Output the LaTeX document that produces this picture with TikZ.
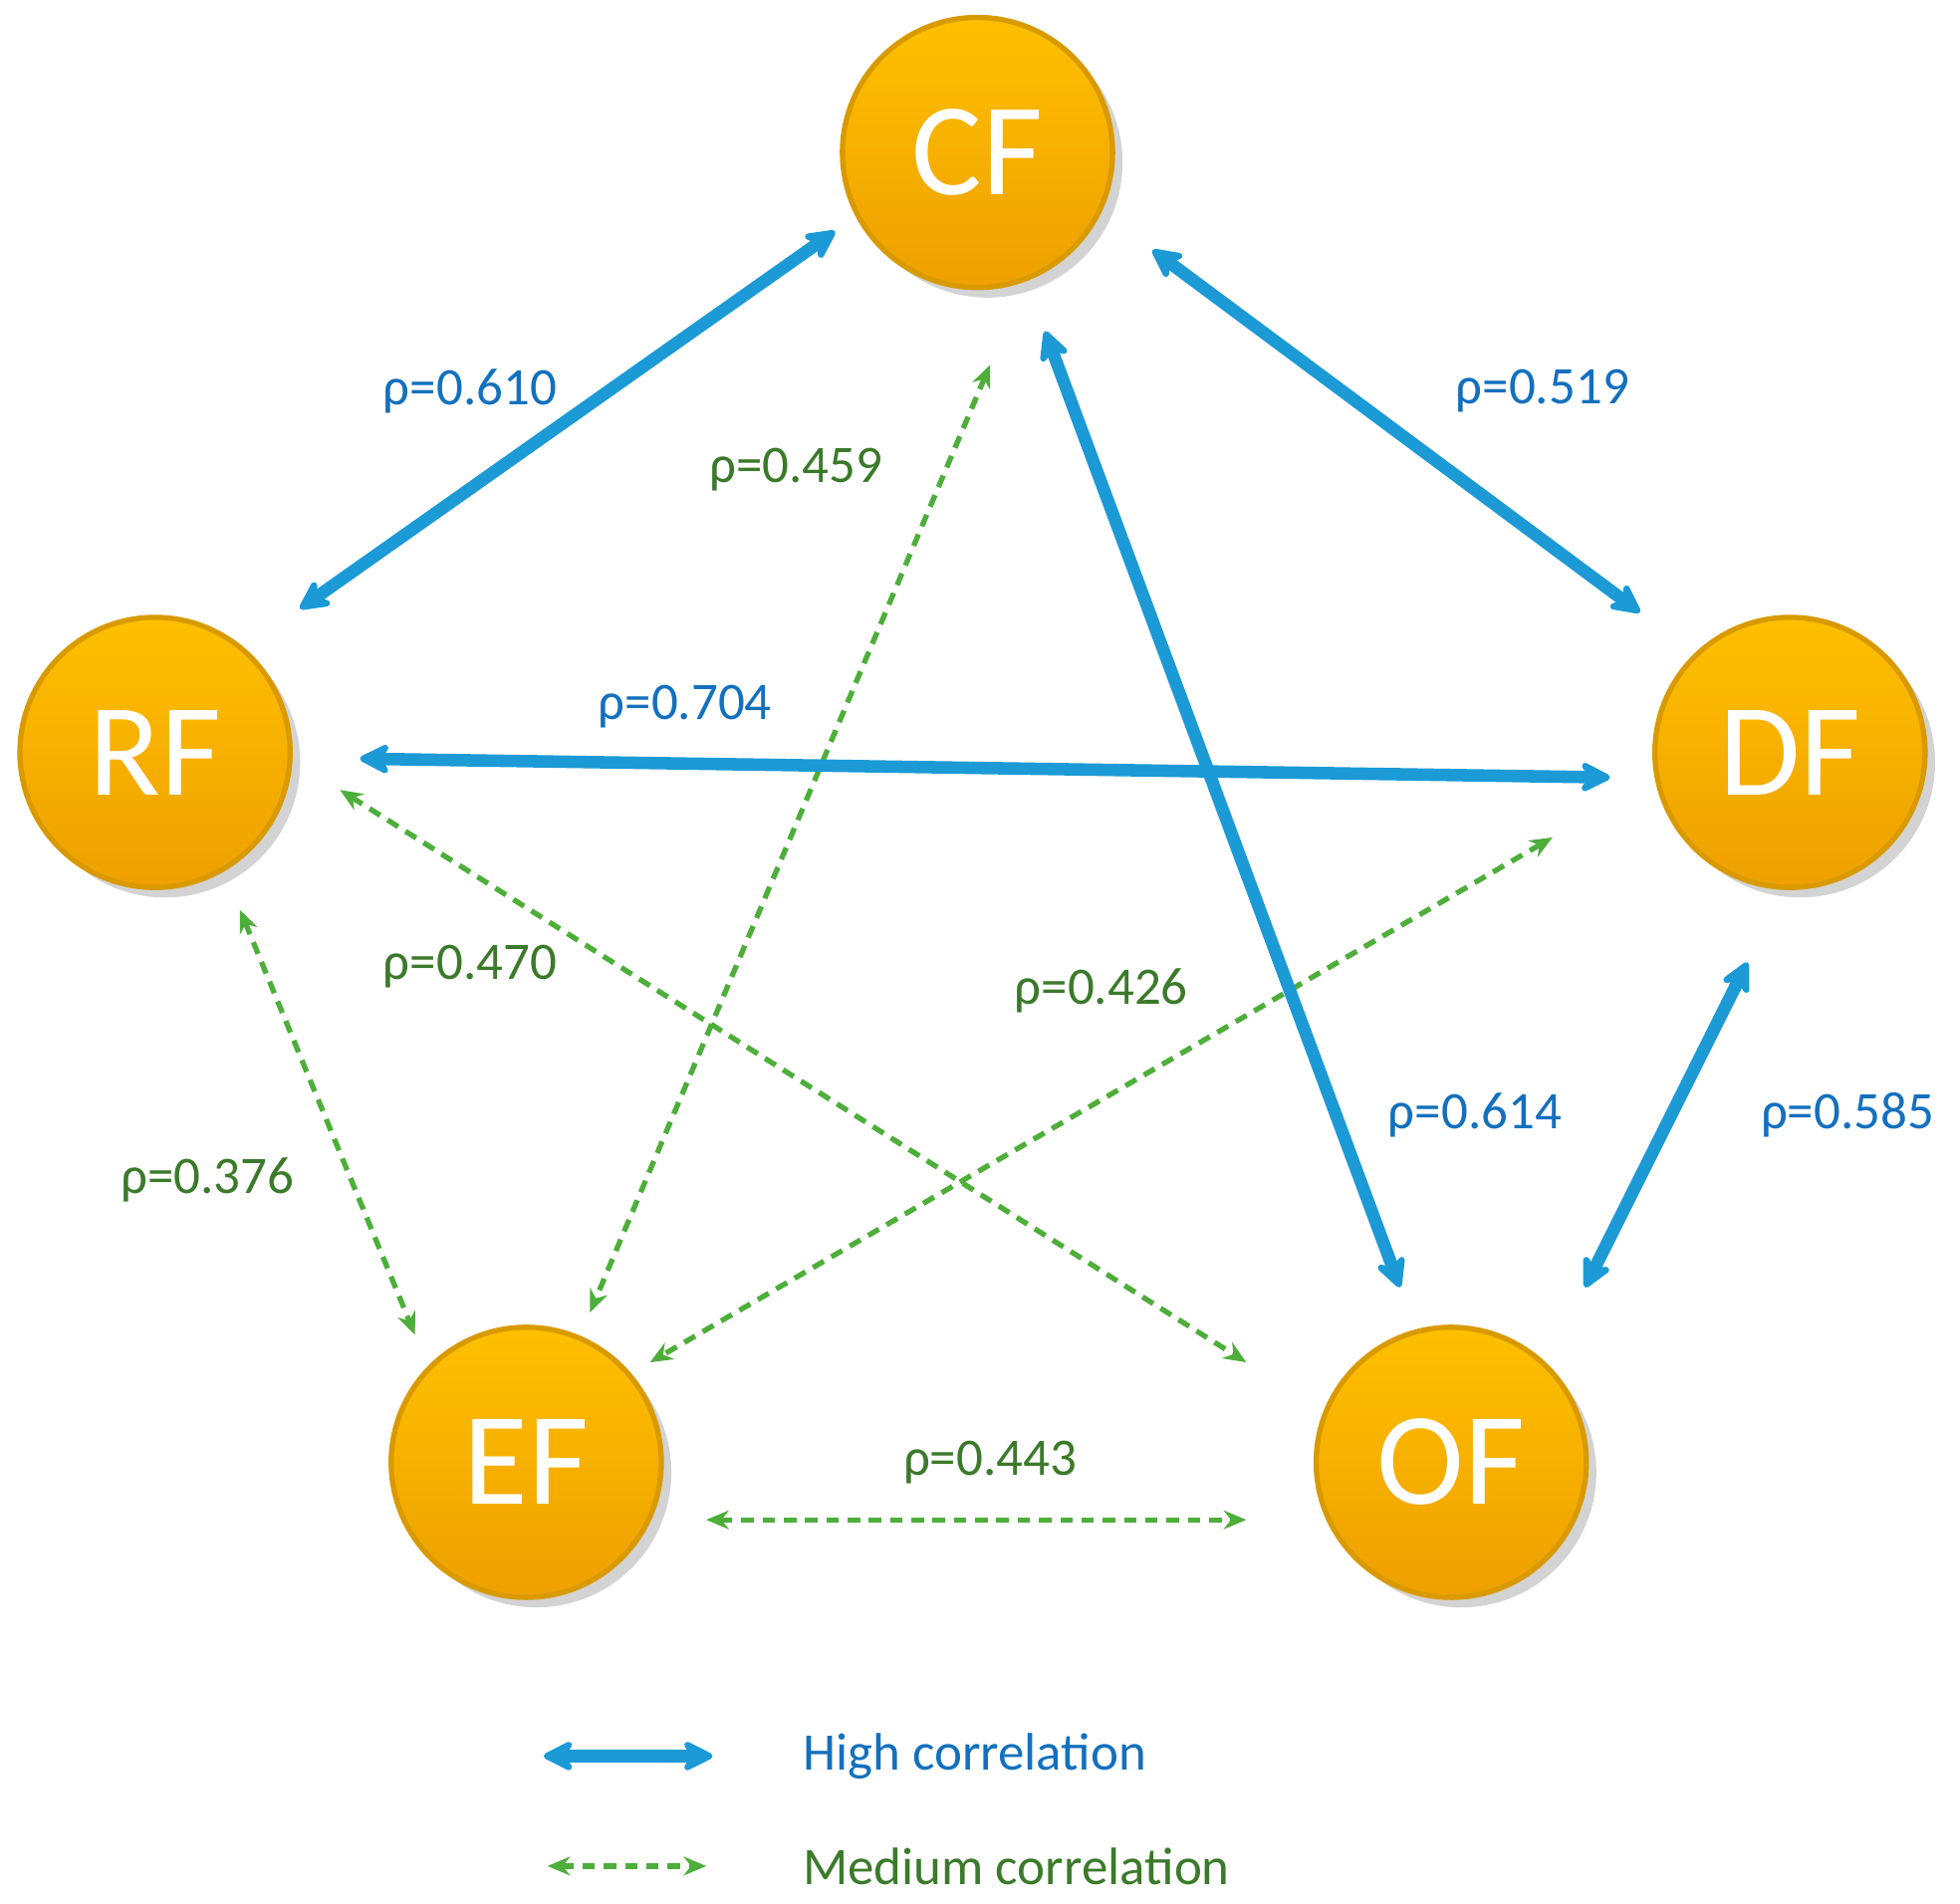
\documentclass[tikz,border=0pt]{standalone}
\usepackage{fontspec}
\setmainfont{Carlito}
\usetikzlibrary{arrows.meta,shadows}
\definecolor{hb}{HTML}{1B9AD6}
\definecolor{hbt}{HTML}{1370BE}
\definecolor{mg}{HTML}{4DAE3A}
\definecolor{mgt}{HTML}{3B7A2A}
\definecolor{ob}{HTML}{D99A00}
\definecolor{otop}{HTML}{FFC000}
\definecolor{obot}{HTML}{EEA000}
\begin{document}
\begin{tikzpicture}[x=0.01cm,y=-0.01cm,
  fac/.style={circle,minimum size=2.16cm,inner sep=0pt,draw=ob,line width=1.2pt,
    top color=otop,bottom color=obot,
    drop shadow={shadow xshift=0.08cm,shadow yshift=-0.08cm,opacity=0.35},
    text=white,font=\fontsize{30}{30}\selectfont},
  high/.style={draw=hb,line width=0.1cm,{Stealth[length=0.3cm,width=0.3cm,round]}-{Stealth[length=0.3cm,width=0.3cm,round]}},
  med/.style={draw=mg,line width=1.2pt,dash pattern=on 0.1cm off 0.07cm,{Stealth[length=0.18cm,width=0.15cm]}-{Stealth[length=0.18cm,width=0.15cm]}},
  hl/.style={text=hbt,font=\fontsize{12}{12}\selectfont},
  ml/.style={text=mgt,font=\fontsize{12}{12}\selectfont}]
\useasboundingbox (0,0) rectangle (1568,1523);
\node[fac] (CF) at (782,122) {CF};
\node[fac] (RF) at (124,602) {RF};
\node[fac] (DF) at (1432,602) {DF};
\node[fac] (EF) at (421,1170) {EF};
\node[fac] (OF) at (1161,1170) {OF};
\coordinate (a1) at (240,487); \coordinate (a2) at (668,185);
\coordinate (b1) at (922,200); \coordinate (b2) at (1312,490);
\coordinate (c1) at (288,607); \coordinate (c2) at (1288,622);
\coordinate (d1) at (836,265); \coordinate (d2) at (1120,1030);
\coordinate (e1) at (1398,770); \coordinate (e2) at (1268,1030);
\coordinate (f1) at (792,292); \coordinate (f2) at (472,1050);
\coordinate (g1) at (192,728); \coordinate (g2) at (332,1068);
\coordinate (h1) at (272,632); \coordinate (h2) at (997,1090);
\coordinate (i1) at (1242,670); \coordinate (i2) at (520,1090);
\coordinate (j1) at (565,1216); \coordinate (j2) at (997,1216);
\draw[med] (f1) -- (f2);
\draw[med] (g1) -- (g2);
\draw[med] (h1) -- (h2);
\draw[med] (i1) -- (i2);
\draw[med] (j1) -- (j2);
\draw[high] (a1) -- (a2);
\draw[high] (b1) -- (b2);
\draw[high] (c1) -- (c2);
\draw[high] (d1) -- (d2);
\draw[high] (e1) -- (e2);
\node[hl] (l1) at (376,313) {ρ=0.610};
\node[hl] (l2) at (1234,313) {ρ=0.519};
\node[hl] (l3) at (548,565) {ρ=0.704};
\node[hl] (l4) at (1180,892) {ρ=0.614};
\node[hl] (l5) at (1478,892) {ρ=0.585};
\node[ml] (l6) at (637,376) {ρ=0.459};
\node[ml] (l7) at (376,773) {ρ=0.470};
\node[ml] (l8) at (881,793) {ρ=0.426};
\node[ml] (l9) at (166,944) {ρ=0.376};
\node[ml] (l10) at (792,1170) {ρ=0.443};
\coordinate (k1) at (435,1405); \coordinate (k2) at (570,1405);
\coordinate (m1) at (438,1493); \coordinate (m2) at (565,1493);
\draw[high] (k1) -- (k2);
\draw[med] (m1) -- (m2);
\node[hl,anchor=west] (t1) at (630,1405) {High correlation};
\node[ml,anchor=west] (t2) at (630,1493) {Medium correlation};
\end{tikzpicture}
\end{document}
